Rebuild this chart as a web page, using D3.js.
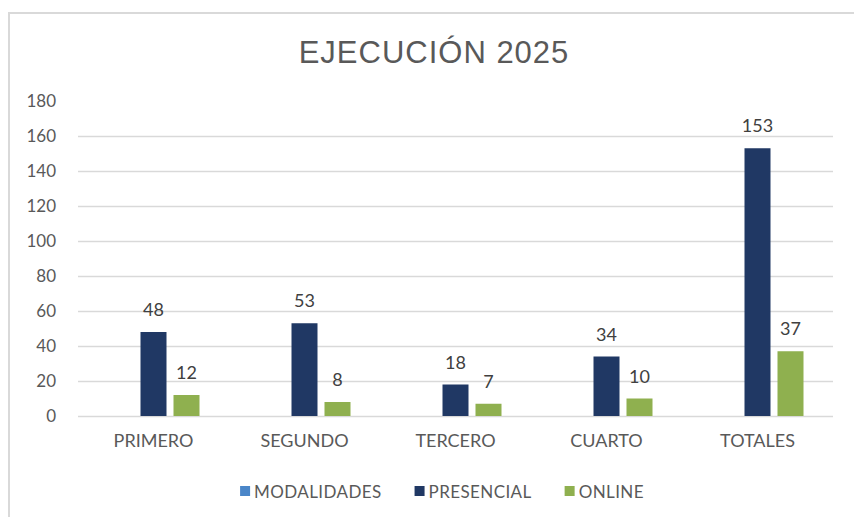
<!DOCTYPE html>
<html>
<head>
<meta charset="utf-8">
<script src="https://cdn.jsdelivr.net/npm/d3@7"></script>
<style>
  body { margin: 0; background: #ffffff; }
  svg { display: block; }
</style>
</head>
<body>
<div id="chart"></div>
<script>
// chart values
var categories = ["PRIMERO", "SEGUNDO", "TERCERO", "CUARTO", "TOTALES"];
var seriesNames = ["MODALIDADES", "PRESENCIAL", "ONLINE"];
var modalidades = [null, null, null, null, null];
var presencial = [48, 53, 18, 34, 153];
var online = [12, 8, 7, 10, 37];
var yTicks = [0, 20, 40, 60, 80, 100, 120, 140, 160, 180];

var colors = ["#4a86c8", "#203864", "#8fb04f"];
var seriesValues = [modalidades, presencial, online];

var width = 854, height = 517;
var plotLeft = 78, plotRight = 833, plotTop = 101, plotBottom = 416;
var labelFont = "Lato, 'Open Sans', sans-serif";

var svg = d3.select("#chart").append("svg")
  .attr("width", width)
  .attr("height", height);

// outer frame of the chart (runs off the right/bottom edges)
svg.append("rect")
  .attr("x", 9).attr("y", 13)
  .attr("width", 900).attr("height", 560)
  .attr("fill", "#ffffff")
  .attr("stroke", "#d9d9d9")
  .attr("stroke-width", 2);

// title
svg.append("text")
  .attr("x", 434).attr("y", 63)
  .attr("text-anchor", "middle")
  .attr("font-family", "'Liberation Sans', Arial, sans-serif")
  .attr("font-size", 31)
  .attr("letter-spacing", 1)
  .attr("fill", "#595959")
  .text("EJECUCIÓN 2025");

var y = d3.scaleLinear().domain([0, 180]).range([plotBottom, plotTop]);

var x0 = d3.scaleBand().domain(categories).range([plotLeft, plotRight]).padding(0);
var groupW = 92;
var x1 = d3.scaleBand().domain(seriesNames)
  .range([(x0.bandwidth() - groupW) / 2, (x0.bandwidth() + groupW) / 2])
  .paddingInner(0.212);

// gridlines (no line at the top tick)
svg.append("g").selectAll("line")
  .data(yTicks.filter(function(t) { return t < 180; }))
  .enter().append("line")
  .attr("x1", plotLeft).attr("x2", plotRight)
  .attr("y1", function(d) { return Math.round(y(d)) + 0.5; })
  .attr("y2", function(d) { return Math.round(y(d)) + 0.5; })
  .attr("stroke", "#d9d9d9")
  .attr("stroke-width", 1.5);

// y axis labels
var yAxis = d3.axisLeft(y).tickValues(yTicks).tickSize(0).tickPadding(0);
var gy = svg.append("g")
  .attr("transform", "translate(56,0)")
  .call(yAxis);
gy.select(".domain").remove();
gy.selectAll("text")
  .attr("font-family", labelFont)
  .attr("font-size", 17)
  .attr("fill", "#595959");

// x axis labels
var xAxis = d3.axisBottom(x0).tickSize(0).tickPadding(0);
var gx = svg.append("g")
  .attr("transform", "translate(0," + (plotBottom + 18) + ")")
  .call(xAxis);
gx.select(".domain").remove();
gx.selectAll("text")
  .attr("font-family", labelFont)
  .attr("font-size", 18)
  .attr("fill", "#595959");

// bars
var rows = [];
categories.forEach(function(c, i) {
  seriesNames.forEach(function(s, j) {
    if (seriesValues[j][i] !== null) {
      rows.push({ cat: c, series: s, value: seriesValues[j][i], color: colors[j] });
    }
  });
});

svg.append("g").selectAll("rect")
  .data(rows)
  .enter().append("rect")
  .attr("x", function(d) { return x0(d.cat) + x1(d.series); })
  .attr("y", function(d) { return y(d.value); })
  .attr("width", x1.bandwidth())
  .attr("height", function(d) { return y(0) - y(d.value); })
  .attr("fill", function(d) { return d.color; });

// value labels
svg.append("g").selectAll("text")
  .data(rows)
  .enter().append("text")
  .attr("x", function(d) { return x0(d.cat) + x1(d.series) + x1.bandwidth() / 2; })
  .attr("y", function(d) { return y(d.value) - 16; })
  .attr("text-anchor", "middle")
  .attr("font-family", labelFont)
  .attr("font-size", 18)
  .attr("fill", "#404040")
  .text(function(d) { return d.value; });

// legend
var legend = svg.append("g").attr("transform", "translate(0,492)");
var items = legend.selectAll("g")
  .data(seriesNames)
  .enter().append("g");
items.append("rect")
  .attr("width", 10).attr("height", 10)
  .attr("y", -6)
  .attr("fill", function(d, i) { return colors[i]; });
items.append("text")
  .attr("x", 14)
  .attr("y", 0)
  .attr("dy", "0.36em")
  .attr("font-family", labelFont)
  .attr("font-size", 17)
  .attr("letter-spacing", 0.4)
  .attr("fill", "#595959")
  .text(function(d) { return d; });

var gap = 33, pos = [], total = 0;
items.each(function() {
  var w = this.getBBox().width;
  pos.push(total);
  total += w + gap;
});
total -= gap;
var start = 442 - total / 2;
items.attr("transform", function(d, i) { return "translate(" + (start + pos[i]) + ",0)"; });
</script>
</body>
</html>
